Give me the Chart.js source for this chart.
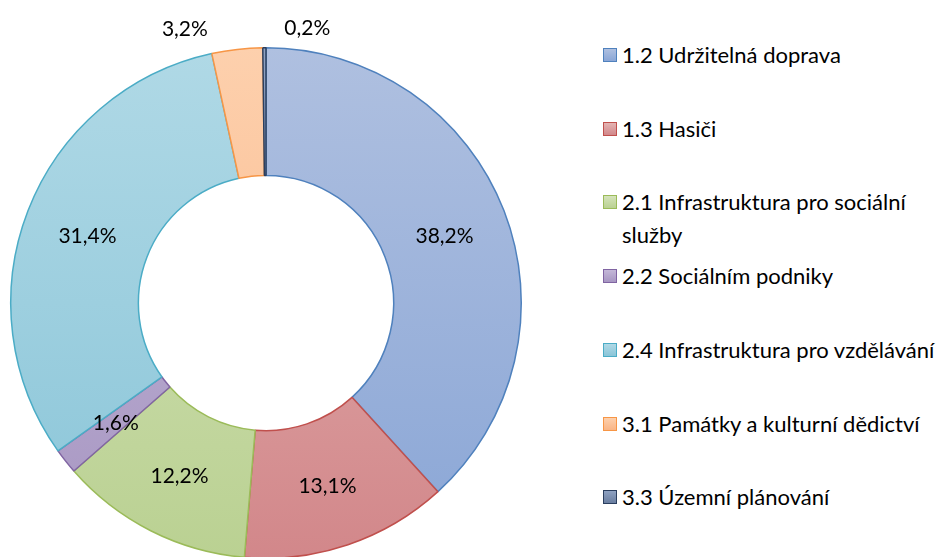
<!DOCTYPE html>
<html>
<head>
<meta charset="utf-8">
<script src="https://cdn.jsdelivr.net/npm/chart.js@4.4.1/dist/chart.umd.min.js"></script>
<style>
  html, body { margin: 0; padding: 0; background: #fff; overflow: hidden; }
  body { width: 944px; height: 557px; position: relative; font-family: Lato, sans-serif; }
  #wrap { position: absolute; left: 0; top: 0; width: 532px; height: 600px; }
  #legend { position: absolute; left: 603px; top: 0; margin: 0; padding: 0; list-style: none; }
  #legend li { position: absolute; left: 0; display: flex; align-items: flex-start; font-size: 22px; line-height: 33px; color: #000; white-space: nowrap; }
  #legend .box { width: 12px; height: 12px; border: 1px solid; margin-top: 10px; margin-right: 5px; flex: none; }
</style>
</head>
<body>
<div id="wrap"><canvas id="chart"></canvas></div>
<ul id="legend"></ul>
<script>
const categories = [
  '1.2 Udržitelná doprava',
  '1.3 Hasiči',
  ['2.1 Infrastruktura pro sociální', 'služby'],
  '2.2 Sociálním podniky',
  '2.4 Infrastruktura pro vzdělávání',
  '3.1 Památky a kulturní dědictví',
  '3.3 Územní plánování'
];
const shares = [38.2, 13.1, 12.2, 1.6, 31.4, 3.2, 0.2];
const labelText = ['38,2%', '13,1%', '12,2%', '1,6%', '31,4%', '3,2%', '0,2%'];

// light (top) / dark (bottom) fill and outline per slice
const fillTop = ['#afc0e0', '#e4b4b3', '#d5e3bb', '#c4b8d8', '#b0d9e6', '#fdd0ad', '#8fa2c2'];
const fillBottom = ['#8aa6d6', '#d2878a', '#bad192', '#a796c2', '#8ac5d8', '#f9b586', '#6a7ea0'];
const outline = ['#4f81bd', '#c0504d', '#9bbb59', '#8064a2', '#4bacc6', '#f79646', '#2b3f5f'];

// the two thin slices get their labels outside the ring
const outsideIdx = [5, 6];
const outsideShift = [-50, 43];

let gradients = null;
function sliceFill(context) {
  const chart = context.chart;
  const area = chart.chartArea;
  if (!area) return fillTop[context.dataIndex];
  if (!gradients) {
    gradients = fillTop.map((c, i) => {
      const g = chart.ctx.createLinearGradient(0, area.top, 0, area.bottom);
      g.addColorStop(0, c);
      g.addColorStop(1, fillBottom[i]);
      return g;
    });
  }
  return gradients[context.dataIndex];
}

const sliceLabels = {
  id: 'sliceLabels',
  afterDatasetsDraw(chart) {
    const ctx = chart.ctx;
    const meta = chart.getDatasetMeta(0);
    ctx.save();
    ctx.font = '21px Lato, sans-serif';
    ctx.fillStyle = '#000';
    ctx.textAlign = 'center';
    ctx.textBaseline = 'middle';
    meta.data.forEach((arc, i) => {
      const k = outsideIdx.indexOf(i);
      if (k < 0) {
        const p = arc.tooltipPosition();
        ctx.fillText(labelText[i], p.x, p.y + 2);
      } else {
        const a = (arc.startAngle + arc.endAngle) / 2;
        const r = arc.outerRadius + 20;
        const x = arc.x + Math.cos(a) * r + outsideShift[k];
        const y = arc.y + Math.sin(a) * r;
        ctx.fillText(labelText[i], x, y);
      }
    });
    ctx.restore();
  }
};

new Chart(document.getElementById('chart'), {
  type: 'doughnut',
  data: {
    labels: categories,
    datasets: [{
      data: shares,
      backgroundColor: sliceFill,
      borderColor: outline,
      borderWidth: 1.5
    }]
  },
  options: {
    responsive: true,
    maintainAspectRatio: false,
    animation: false,
    cutout: '50%',
    events: [],
    layout: { padding: { left: 10, right: 10, top: 47, bottom: 41 } },
    plugins: {
      legend: { display: false },
      tooltip: { enabled: false }
    }
  },
  plugins: [sliceLabels]
});

// legend on the right, one entry every 73.7px whatever its line count
const legend = document.getElementById('legend');
categories.forEach((c, i) => {
  const li = document.createElement('li');
  li.style.top = (38 + i * 73.7) + 'px';
  const box = document.createElement('span');
  box.className = 'box';
  box.style.borderColor = outline[i];
  box.style.background = `linear-gradient(${fillTop[i]}, ${fillBottom[i]})`;
  const txt = document.createElement('span');
  txt.innerHTML = [].concat(c).join('<br>');
  li.appendChild(box);
  li.appendChild(txt);
  legend.appendChild(li);
});
</script>
</body>
</html>
